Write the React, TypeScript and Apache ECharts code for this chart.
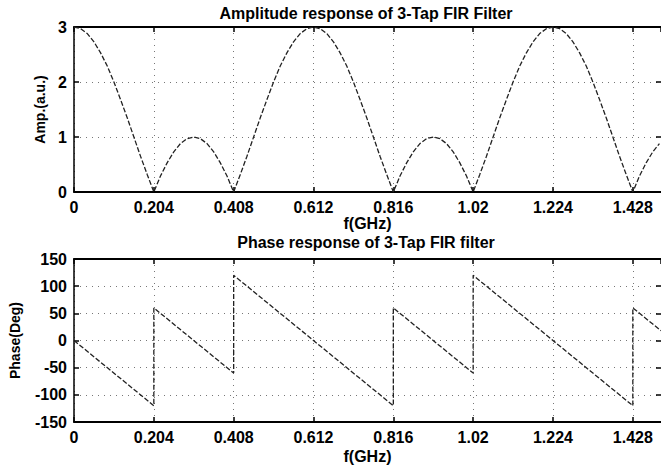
import React, { useEffect, useRef } from "react";
import * as echarts from "echarts";

// ---- data ----
const ampFreqStep = 0.017; // GHz between read samples
const ampValues = [
  3, 2.97, 2.88, 2.73, 2.53, 2.29, 2, 1.68, 1.35, 1, 0.65, 0.32, 0, 0.29, 0.53, 0.73, 0.88, 0.97,
  1, 0.97, 0.88, 0.73, 0.53, 0.29, 0, 0.32, 0.65, 1, 1.35, 1.68, 2, 2.29, 2.53, 2.73, 2.88, 2.97,
  3, 2.97, 2.88, 2.73, 2.53, 2.29, 2, 1.68, 1.35, 1, 0.65, 0.32, 0, 0.29, 0.53, 0.73, 0.88, 0.97,
  1, 0.97, 0.88, 0.73, 0.53, 0.29, 0, 0.32, 0.65, 1, 1.35, 1.68, 2, 2.29, 2.53, 2.73, 2.88, 2.97,
  3, 2.97, 2.88, 2.73, 2.53, 2.29, 2, 1.68, 1.35, 1, 0.65, 0.32, 0, 0.29, 0.53, 0.73, 0.88,
];
const phaseFreqs = [0, 0.204, 0.204, 0.408, 0.408, 0.816, 0.816, 1.02, 1.02, 1.428, 1.428, 1.5];
const phaseValues = [0, -120, 60, -60, 120, -120, 60, -60, 120, -120, 60, 18];
const xTickLabels = ["0", "0.204", "0.408", "0.612", "0.816", "1.02", "1.224", "1.428"];
const xTickStep = 0.204;
const ampTicks = [0, 1, 2, 3];
const phaseTicks = [-150, -100, -50, 0, 50, 100, 150];

const topTitle = "Amplitude response of 3-Tap FIR Filter";
const bottomTitle = "Phase response of 3-Tap FIR filter";

const FONT_FAMILY = '"Liberation Sans", Arial, Helvetica, sans-serif';

export default function App() {
  const ref = useRef<HTMLDivElement>(null);

  useEffect(() => {
    if (!ref.current) return;
    const chart = echarts.init(ref.current, undefined, { renderer: "svg" });

    const ampData = ampValues.map((v, i) => [+(i * ampFreqStep).toFixed(3), v]);
    const phaseData = phaseFreqs.map((f, i) => [f, phaseValues[i]]);

    const labelStyle = {
      color: "#000",
      fontFamily: FONT_FAMILY,
      fontWeight: "bold" as const,
      fontSize: 16,
    };
    const tick = { show: true, inside: true, length: 5, lineStyle: { color: "#000", width: 1.5 } };
    const split = { show: true, lineStyle: { color: "#777", width: 1, type: [1, 5] as any } };

    const xFormatter = (v: number) => {
      const idx = Math.round(v / xTickStep);
      if (Math.abs(idx * xTickStep - v) > 1e-6) return "";
      return xTickLabels[idx] ?? "";
    };

    const makeX = (gridIndex: number) => [
      {
        type: "value",
        gridIndex,
        min: 0,
        max: 1.5,
        interval: xTickStep,
        position: "bottom",
        name: "f(GHz)",
        nameLocation: "middle",
        nameGap: gridIndex === 0 ? 23 : 26,
        nameTextStyle: { ...labelStyle },
        axisLine: { show: true, onZero: false, lineStyle: { color: "#000", width: 2 } },
        axisTick: tick,
        axisLabel: { ...labelStyle, margin: 7, formatter: xFormatter, showMaxLabel: false },
        splitLine: split,
      },
      {
        type: "value",
        gridIndex,
        min: 0,
        max: 1.5,
        interval: xTickStep,
        position: "top",
        axisLine: { show: true, onZero: false, lineStyle: { color: "#000", width: 2 } },
        axisTick: tick,
        axisLabel: { show: false },
        splitLine: { show: false },
      },
    ];

    const makeY = (gridIndex: number, min: number, max: number, interval: number, name: string, nameGap: number) => [
      {
        type: "value",
        gridIndex,
        min,
        max,
        interval,
        position: "left",
        name,
        nameLocation: "middle",
        nameGap,
        nameTextStyle: { ...labelStyle, fontSize: 14 },
        axisLine: { show: true, onZero: false, lineStyle: { color: "#000", width: 1.5 } },
        axisTick: tick,
        axisLabel: { ...labelStyle, margin: 7 },
        splitLine: split,
      },
      {
        type: "value",
        gridIndex,
        min,
        max,
        interval,
        position: "right",
        axisLine: { show: false, onZero: false },
        axisTick: tick,
        axisLabel: { show: false },
        splitLine: { show: false },
      },
    ];

    const option: any = {
      animation: false,
      backgroundColor: "#fff",
      grid: [
        { left: 74, top: 27, width: 587, height: 165 },
        { left: 74, top: 259, width: 587, height: 163 },
      ],
      xAxis: [...makeX(0), ...makeX(1)],
      yAxis: [
        ...makeY(0, ampTicks[0], ampTicks[ampTicks.length - 1], 1, "Amp.(a.u.)", 26),
        ...makeY(1, phaseTicks[0], phaseTicks[phaseTicks.length - 1], 50, "Phase(Deg)", 52),
      ],
      series: [
        {
          type: "line",
          xAxisIndex: 0,
          yAxisIndex: 0,
          data: ampData,
          showSymbol: false,
          lineStyle: { color: "#222", width: 1.3, type: [5, 2] },
        },
        {
          type: "line",
          xAxisIndex: 2,
          yAxisIndex: 2,
          data: phaseData,
          showSymbol: false,
          lineStyle: { color: "#222", width: 1.3, type: [5, 2] },
        },
      ],
      graphic: [
        {
          type: "text",
          x: 366,
          y: 13,
          style: {
            text: topTitle,
            font: `bold 16px ${FONT_FAMILY}`,
            fill: "#000",
            align: "center",
            verticalAlign: "middle",
            textAlign: "center",
            textVerticalAlign: "middle",
          },
        },
        {
          type: "text",
          x: 366,
          y: 242,
          style: {
            text: bottomTitle,
            font: `bold 16px ${FONT_FAMILY}`,
            fill: "#000",
            align: "center",
            verticalAlign: "middle",
            textAlign: "center",
            textVerticalAlign: "middle",
          },
        },
      ],
    };

    chart.setOption(option);
    return () => chart.dispose();
  }, []);

  return (
    <div
      ref={ref}
      style={{ position: "fixed", left: 0, top: 0, width: 661, height: 465, background: "#fff" }}
    />
  );
}
